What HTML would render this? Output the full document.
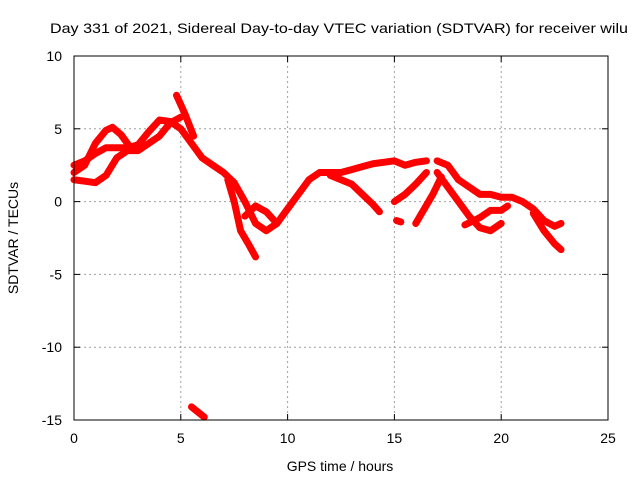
<!DOCTYPE html>
<html><head><meta charset="utf-8"><style>
body{margin:0;background:#fff;}
svg{display:block;font-family:"Liberation Sans",sans-serif;font-size:14px;}
</style></head><body>
<svg id="chart" width="640" height="480">
<text x="50" y="33" textLength="578" lengthAdjust="spacingAndGlyphs">Day 331 of 2021, Sidereal Day-to-day VTEC variation (SDTVAR) for receiver wilu</text>
<text x="340" y="471" text-anchor="middle">GPS time / hours</text>
<text transform="translate(18,238) rotate(-90)" text-anchor="middle">SDTVAR / TECUs</text>
<g id="grid"></g><g id="ticks"></g><g id="marks"></g>
<rect x="74" y="56" width="534" height="364" fill="none" stroke="#000"/>
</svg>
<script>
const xTicks=[0,5,10,15,20,25];
const yTicks=[-15,-10,-5,0,5,10];
const track1=[[0,2.5],[0.5,2.8],[1,3.3],[1.5,3.7],[2,3.7],[2.5,3.7],[3,3.9],[3.5,4.8],[4,5.6],[4.5,5.5],[5,5],[5.5,4],[6,3],[6.5,2.5],[7,2],[7.5,1.3],[8,0],[8.5,-1.5],[9,-2],[9.5,-1.5],[10,-0.5],[10.5,0.5],[11,1.5],[11.5,2],[12,2],[12.5,2],[13,2.2],[13.5,2.4],[14,2.6],[14.5,2.7],[15,2.8],[15.5,2.5],[16,2.7],[16.5,2.8]];
const track2=[[0,1.5],[0.5,1.4],[1,1.3],[1.5,1.8],[2,3],[2.5,3.5],[3,3.5],[3.5,4],[4,4.5],[4.5,5.4],[5,5.8]];
const track3=[[0,2],[0.5,2.5],[1,4],[1.5,4.9],[1.8,5.1],[2.2,4.6],[2.6,3.8]];
const track4=[[4.8,7.3],[5.2,6],[5.6,4.5]];
const track5=[[7.2,1.5],[7.5,0],[7.8,-2],[8.2,-3],[8.5,-3.8]];
const track6=[[8,-1],[8.5,-0.3],[9,-0.7],[9.5,-1.5]];
const track7=[[12,1.8],[12.5,1.5],[13,1.2],[13.5,0.5],[14,-0.2],[14.3,-0.7]];
const track8=[[15.1,-1.3],[15.3,-1.4]];
const track9=[[16.5,2],[16,1.2],[15.5,0.5],[15,0]];
const track10=[[17.2,1.7],[16.8,0.5],[16.4,-0.5],[16,-1.5]];
const track11=[[17,2.8],[17.5,2.5],[18,1.5],[18.5,1],[19,0.5],[19.5,0.5],[20,0.3],[20.5,0.3],[21,0],[21.5,-0.5],[22,-1.3],[22.5,-1.7],[22.8,-1.5]];
const track12=[[17,2],[17.5,1],[18,0],[18.5,-1],[19,-1.8],[19.5,-2],[20,-1.5]];
const track13=[[18.3,-1.6],[19,-1.1],[19.5,-0.6],[20,-0.6],[20.3,-0.3]];
const track14=[[21.5,-0.8],[22,-2],[22.5,-2.9],[22.8,-3.3]];
const track15=[[5.5,-14.1],[6.1,-14.8]];
const tracks=[track1,track2,track3,track4,track5,track6,track7,track8,track9,track10,track11,track12,track13,track14,track15];
const X=v=>74+v*534/25, Y=v=>420-(v+15)*364/25;
const NS="http://www.w3.org/2000/svg";
const grid=document.getElementById('grid'),ticks=document.getElementById('ticks'),marks=document.getElementById('marks');
function mk(tag,attrs,parent){const e=document.createElementNS(NS,tag);for(const k in attrs)e.setAttribute(k,attrs[k]);parent.appendChild(e);return e;}
xTicks.forEach(t=>{
 const x=X(t);
 if(t>0&&t<25){const g=mk('line',{x1:x,x2:x,y1:56,y2:420,stroke:'#a0a0a0','stroke-dasharray':'2,3'},grid);
 
 }
 mk('line',{x1:x,x2:x,y1:420,y2:414,stroke:'#000'},ticks);mk('line',{x1:x,x2:x,y1:56,y2:62,stroke:'#000'},ticks);
 const l=mk('text',{x:x,y:443,'text-anchor':'middle'},ticks);l.textContent=t;
 
 
});
yTicks.forEach(t=>{
 const y=Y(t);
 if(t>-15&&t<10){const g=mk('line',{x1:74,x2:608,y1:y,y2:y,stroke:'#a0a0a0','stroke-dasharray':'2,3'},grid);
 
 }
 mk('line',{x1:74,x2:80,y1:y,y2:y,stroke:'#000'},ticks);mk('line',{x1:608,x2:602,y1:y,y2:y,stroke:'#000'},ticks);
 const l=mk('text',{x:62,y:y+5,'text-anchor':'end'},ticks);l.textContent=t;
 
 
});
tracks.forEach(tr=>{
 const p=mk('polyline',{points:tr.map(d=>X(d[0])+','+Y(d[1])).join(' '),fill:'none',stroke:'#ff0000','stroke-width':7,'stroke-linejoin':'round','stroke-linecap':'round'},marks);
 
 
});
</script>
</body></html>
